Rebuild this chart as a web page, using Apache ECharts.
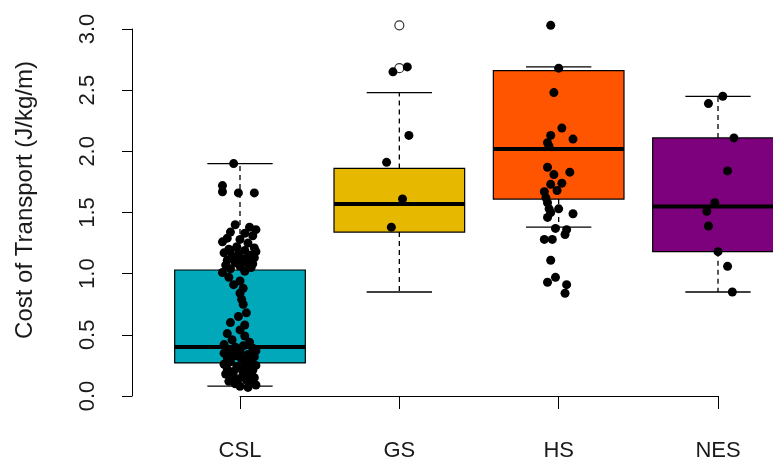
<!DOCTYPE html>
<html>
<head>
<meta charset="utf-8">
<script src="https://cdn.jsdelivr.net/npm/echarts@6/dist/echarts.min.js"></script>
<style>
html,body{margin:0;padding:0;background:#fff;}
#chart{width:773px;height:466px;}
</style>
</head>
<body>
<div id="chart"></div>
<script>
// ---- data ----
const categories = ['CSL', 'GS', 'HS', 'NES'];
const yTicks = [0.0, 0.5, 1.0, 1.5, 2.0, 2.5, 3.0];
const yTitle = 'Cost of Transport (J/kg/m)';
// [lower whisker, Q1, median, Q3, upper whisker]
const statsCSL = [0.08, 0.27, 0.40, 1.03, 1.90];
const statsGS  = [0.85, 1.34, 1.57, 1.86, 2.48];
const statsHS  = [1.38, 1.61, 2.02, 2.66, 2.69];
const statsNES = [0.85, 1.18, 1.55, 2.11, 2.45];
// outliers drawn by the boxplot (open circles)
const outliersGS = [3.03, 2.68];

// individual observations
const valuesCSL = [1.90, 1.72, 1.67, 1.66, 1.66, 1.40, 1.38, 1.36, 1.34, 1.33, 1.31, 1.29, 1.28, 1.26, 1.25,
  1.22, 1.21, 1.20, 1.19, 1.18, 1.17, 1.16, 1.15, 1.14, 1.13, 1.12, 1.11, 1.10, 1.09, 1.08, 1.07, 1.06,
  1.05, 1.04, 1.02, 1.01, 0.97, 0.94, 0.91, 0.88, 0.84, 0.79, 0.75, 0.68, 0.65, 0.60, 0.58, 0.54, 0.51,
  0.49, 0.46, 0.44, 0.42, 0.41, 0.40, 0.39, 0.38, 0.37, 0.36, 0.35, 0.34, 0.33, 0.32, 0.31, 0.30, 0.29,
  0.28, 0.27, 0.26, 0.25, 0.24, 0.23, 0.22, 0.21, 0.20, 0.19, 0.18, 0.17, 0.16, 0.15, 0.14, 0.13, 0.12,
  0.11, 0.10, 0.09, 0.08, 0.07, 0.33, 0.29, 0.22, 0.18, 0.13, 1.13, 1.09, 1.19, 0.36, 0.26];
const jitterCSL = [-0.04, -0.11, -0.11, -0.01, 0.09, -0.03, 0.06, 0.10, -0.06, 0.03, 0.08, -0.08, 0.00, -0.11, 0.05,
  -0.02, 0.09, -0.07, 0.03, 0.10, -0.10, -0.01, 0.06, -0.05, 0.09, 0.02, -0.08, 0.05, -0.03, 0.08, -0.09, 0.00,
  0.07, -0.06, 0.03, -0.11, -0.07, 0.00, -0.04, 0.02, 0.00, 0.01, 0.02, 0.04, -0.01, -0.06, 0.03, 0.00, -0.08,
  0.03, -0.05, 0.06, -0.10, 0.02, -0.03, 0.08, -0.07, 0.10, 0.00, -0.10, 0.05, -0.04, 0.09, -0.08, 0.01, 0.07,
  -0.06, 0.03, -0.10, 0.10, -0.02, 0.05, -0.08, 0.08, -0.04, 0.02, -0.09, 0.06, -0.05, 0.09, -0.01, 0.04, -0.07,
  0.07, -0.03, 0.10, 0.00, 0.05, -0.02, 0.04, 0.01, 0.03, -0.05, -0.01, 0.04, -0.06, -0.02, 0.06];
const valuesGS = [2.65, 2.69, 2.13, 1.91, 1.61, 1.38];
const jitterGS = [-0.04, 0.05, 0.06, -0.08, 0.02, -0.05];
const valuesHS = [3.03, 2.68, 2.48, 2.19, 2.13, 2.10, 2.07, 2.04, 1.87, 1.81, 1.83, 1.74, 1.73, 1.68, 1.67, 1.62,
  1.58, 1.53, 1.53, 1.50, 1.46, 1.49, 1.37, 1.36, 1.32, 1.28, 1.28, 1.11, 0.97, 0.93, 0.91, 0.84];
const jitterHS = [-0.05, 0.00, -0.03, 0.02, -0.05, 0.09, -0.07, -0.06, -0.07, -0.03, 0.07, 0.02, -0.05, -0.01, -0.09, -0.08,
  -0.07, -0.06, 0.00, -0.05, -0.07, 0.09, -0.02, 0.05, 0.04, -0.09, -0.04, -0.05, -0.02, -0.07, 0.05, 0.04];
const valuesNES = [2.45, 2.39, 2.11, 1.84, 1.58, 1.51, 1.39, 1.18, 1.06, 0.85];
const jitterNES = [0.03, -0.06, 0.10, 0.06, -0.02, -0.07, -0.06, 0.00, 0.06, 0.09];

const allStats = [statsCSL, statsGS, statsHS, statsNES];
const allValues = [valuesCSL, valuesGS, valuesHS, valuesNES];
const allJitter = [jitterCSL, jitterGS, jitterHS, jitterNES];
const boxColors = ['#00A8B9', '#E6B800', '#FF5500', '#7D007D'];

const boxData = allStats.map((s, i) => [i + 1].concat(s));
const pointData = [];
allValues.forEach((vals, i) => vals.forEach((v, k) => pointData.push([i + 1 + allJitter[i][k], v])));
const outlierData = outliersGS.map(v => [2, v]);

const FONT = '"Liberation Sans", Arial, sans-serif';
const TXT = '#1a1a1a';

const chart = echarts.init(document.getElementById('chart'), null, {renderer: 'canvas'});
chart.setOption({
  animation: false,
  backgroundColor: '#ffffff',
  grid: {left: 240, right: 55, top: 29, bottom: 70, containLabel: false},
  graphic: [{
    type: 'text',
    x: 25, y: 200,
    rotation: Math.PI / 2,
    style: {text: yTitle, fill: TXT, font: '24px ' + FONT, align: 'center', verticalAlign: 'middle'}
  }],
  xAxis: {
    type: 'value', min: 1, max: 4, interval: 1,
    offset: 6,
    splitLine: {show: false},
    axisLine: {show: true, lineStyle: {color: '#000', width: 1}},
    axisTick: {show: true, length: 13, lineStyle: {color: '#000', width: 1}},
    axisLabel: {
      margin: 38, color: TXT, fontFamily: FONT, fontSize: 22,
      formatter: v => categories[Math.round(v) - 1] || ''
    }
  },
  yAxis: {
    type: 'value', min: 0, max: 3, interval: 0.5,
    offset: 108,
    splitLine: {show: false},
    axisLine: {show: true, lineStyle: {color: '#000', width: 1}},
    axisTick: {show: true, length: 10, lineStyle: {color: '#000', width: 1}},
    axisLabel: {
      rotate: 90, margin: 33, color: TXT, fontFamily: FONT, fontSize: 22,
      formatter: v => v.toFixed(1)
    }
  },
  series: [
    {
      type: 'custom',
      clip: false,
      data: boxData,
      renderItem: function (params, api) {
        const x = api.value(0);
        const lo = api.value(1), q1 = api.value(2), med = api.value(3), q3 = api.value(4), hi = api.value(5);
        const halfW = 0.41, capW = 0.205;
        const pLo = api.coord([x, lo]), pQ1 = api.coord([x, q1]), pMed = api.coord([x, med]);
        const pQ3 = api.coord([x, q3]), pHi = api.coord([x, hi]);
        const left = api.coord([x - halfW, med])[0], right = api.coord([x + halfW, med])[0];
        const capL = api.coord([x - capW, med])[0], capR = api.coord([x + capW, med])[0];
        const cx = pMed[0];
        return {
          type: 'group',
          children: [
            {type: 'line', shape: {x1: cx, y1: pQ3[1], x2: cx, y2: pHi[1]}, style: {stroke: '#000', lineWidth: 1.3, lineDash: [5, 4]}},
            {type: 'line', shape: {x1: cx, y1: pQ1[1], x2: cx, y2: pLo[1]}, style: {stroke: '#000', lineWidth: 1.3, lineDash: [5, 4]}},
            {type: 'line', shape: {x1: capL, y1: pHi[1], x2: capR, y2: pHi[1]}, style: {stroke: '#000', lineWidth: 1.3}},
            {type: 'line', shape: {x1: capL, y1: pLo[1], x2: capR, y2: pLo[1]}, style: {stroke: '#000', lineWidth: 1.3}},
            {type: 'rect', shape: {x: left, y: pQ3[1], width: right - left, height: pQ1[1] - pQ3[1]},
              style: {fill: boxColors[params.dataIndex], stroke: '#000', lineWidth: 1.2}},
            {type: 'line', shape: {x1: left, y1: pMed[1], x2: right, y2: pMed[1]}, style: {stroke: '#000', lineWidth: 4}}
          ]
        };
      },
      z: 1
    },
    {
      type: 'scatter',
      clip: false,
      data: outlierData,
      symbol: 'circle',
      symbolSize: 9,
      itemStyle: {color: '#fff', borderColor: '#000', borderWidth: 1.2},
      z: 2
    },
    {
      type: 'scatter',
      clip: false,
      data: pointData,
      symbol: 'circle',
      symbolSize: 9,
      itemStyle: {color: '#000', opacity: 1},
      z: 3
    }
  ]
});
</script>
</body>
</html>
